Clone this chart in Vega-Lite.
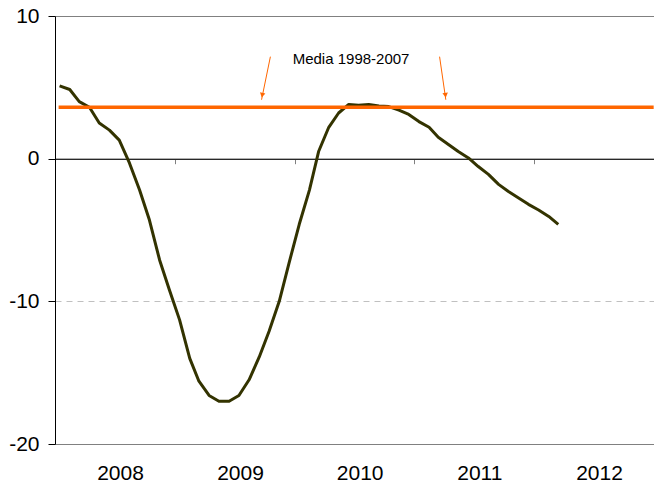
{
  "$schema": "https://vega.github.io/schema/vega-lite/v6.json",
  "width": 599,
  "height": 428,
  "autosize": {"type": "none"},
  "padding": {"left": 55, "top": 16, "right": 0, "bottom": 47},
  "background": "white",
  "config": {
    "view": {"stroke": null},
    "font": "Liberation Sans",
    "axis": {"labelFont": "Liberation Sans", "labelColor": "#000000"}
  },
  "datasets": {
    "serie": [
      {"date": "2008-01-15", "value": 5.1},
      {"date": "2008-02-15", "value": 4.85},
      {"date": "2008-03-15", "value": 4.0},
      {"date": "2008-04-15", "value": 3.6},
      {"date": "2008-05-15", "value": 2.5},
      {"date": "2008-06-15", "value": 2.0},
      {"date": "2008-07-15", "value": 1.3},
      {"date": "2008-08-15", "value": -0.3},
      {"date": "2008-09-15", "value": -2.2},
      {"date": "2008-10-15", "value": -4.3},
      {"date": "2008-11-15", "value": -7.1},
      {"date": "2008-12-15", "value": -9.2},
      {"date": "2009-01-15", "value": -11.3},
      {"date": "2009-02-15", "value": -14.0},
      {"date": "2009-03-15", "value": -15.6},
      {"date": "2009-04-15", "value": -16.6},
      {"date": "2009-05-15", "value": -17.0},
      {"date": "2009-06-15", "value": -17.0},
      {"date": "2009-07-15", "value": -16.6},
      {"date": "2009-08-15", "value": -15.5},
      {"date": "2009-09-15", "value": -13.9},
      {"date": "2009-10-15", "value": -12.1},
      {"date": "2009-11-15", "value": -10.0},
      {"date": "2009-12-15", "value": -7.3},
      {"date": "2010-01-15", "value": -4.6},
      {"date": "2010-02-15", "value": -2.2},
      {"date": "2010-03-15", "value": 0.5},
      {"date": "2010-04-15", "value": 2.2},
      {"date": "2010-05-15", "value": 3.2},
      {"date": "2010-06-15", "value": 3.8},
      {"date": "2010-07-15", "value": 3.75},
      {"date": "2010-08-15", "value": 3.8},
      {"date": "2010-09-15", "value": 3.7},
      {"date": "2010-10-15", "value": 3.65},
      {"date": "2010-11-15", "value": 3.4},
      {"date": "2010-12-15", "value": 3.1},
      {"date": "2011-01-15", "value": 2.6},
      {"date": "2011-02-15", "value": 2.2},
      {"date": "2011-03-15", "value": 1.5},
      {"date": "2011-04-15", "value": 1.0},
      {"date": "2011-05-15", "value": 0.5},
      {"date": "2011-06-15", "value": 0.05},
      {"date": "2011-07-15", "value": -0.55},
      {"date": "2011-08-15", "value": -1.1},
      {"date": "2011-09-15", "value": -1.8},
      {"date": "2011-10-15", "value": -2.3},
      {"date": "2011-11-15", "value": -2.75},
      {"date": "2011-12-15", "value": -3.2},
      {"date": "2012-01-15", "value": -3.6},
      {"date": "2012-02-15", "value": -4.05},
      {"date": "2012-03-15", "value": -4.6}
    ],
    "media": [
      {"date": "2008-01-12", "media": 3.6},
      {"date": "2012-12-31", "media": 3.6}
    ],
    "arrows": [
      {"id": 1, "d1": "2009-10-19", "y1": 7.15, "d2": "2009-09-22", "y2": 4.13, "hd": "2009-09-24", "hy": 4.45},
      {"id": 2, "d1": "2011-03-19", "y1": 7.15, "d2": "2011-04-07", "y2": 4.13, "hd": "2011-04-06", "hy": 4.45}
    ],
    "label": [
      {"date": "2010-06-22", "y": 7.0, "text": "Media 1998-2007"}
    ]
  },
  "layer": [
    {
      "data": {"name": "serie"},
      "mark": {"type": "line", "color": "#333300", "strokeWidth": 3, "strokeJoin": "round"},
      "encoding": {
        "x": {
          "field": "date",
          "type": "temporal",
          "scale": {"type": "utc", "domain": [{"year": 2008, "month": 1, "date": 1, "utc": true}, {"year": 2013, "month": 1, "date": 1, "utc": true}]},
          "axis": {
            "title": null,
            "orient": "bottom",
            "offset": -285.3,
            "values": [
              {"year": 2008, "month": 1, "date": 1, "utc": true},
              {"year": 2009, "month": 1, "date": 1, "utc": true},
              {"year": 2010, "month": 1, "date": 1, "utc": true},
              {"year": 2011, "month": 1, "date": 1, "utc": true},
              {"year": 2012, "month": 1, "date": 1, "utc": true}
            ],
            "labelExpr": "utcFormat(datum.value, '%Y')",
            "labelFontSize": 21,
            "labelOffset": 65,
            "labelPadding": 299,
            "labelAlign": "center",
            "labelBaseline": "top",
            "labelFlush": false,
            "labelOverlap": false,
            "domainColor": "#000000",
            "domainWidth": 1,
            "tickColor": "#808080",
            "tickSize": 5,
            "tickWidth": 1,
            "grid": false
          }
        },
        "y": {
          "field": "value",
          "type": "quantitative",
          "scale": {"domain": [-20, 10], "nice": false, "zero": false},
          "axis": {
            "title": null,
            "values": [-20, -10, 0, 10],
            "labelExpr": "datum.value < 0 ? '-' + abs(datum.value) : '' + datum.value",
            "labelFontSize": 21,
            "labelPadding": 9,
            "tickSize": 7,
            "tickColor": "#000000",
            "domainColor": "#000000",
            "grid": true,
            "gridColor": {"condition": {"test": "datum.value == -10", "value": "#c0c0c0"}, "value": "#808080"},
            "gridDash": {"condition": {"test": "datum.value == -10", "value": [6, 5]}, "value": []},
            "gridWidth": 1
          }
        }
      }
    },
    {
      "data": {"name": "media"},
      "mark": {"type": "line", "color": "#FF6600", "strokeWidth": 3.5},
      "encoding": {
        "x": {"field": "date", "type": "temporal"},
        "y": {"field": "media", "type": "quantitative"}
      }
    },
    {
      "data": {"name": "arrows"},
      "mark": {"type": "rule", "color": "#FF6600", "strokeWidth": 1},
      "encoding": {
        "x": {"field": "d1", "type": "temporal"},
        "y": {"field": "y1", "type": "quantitative"},
        "x2": {"field": "d2"},
        "y2": {"field": "y2"}
      }
    },
    {
      "data": {"name": "arrows"},
      "transform": [{"filter": "datum.id == 1"}],
      "mark": {"type": "point", "shape": "triangle-down", "filled": true, "color": "#FF6600", "size": 30, "angle": 12, "opacity": 1},
      "encoding": {
        "x": {"field": "hd", "type": "temporal"},
        "y": {"field": "hy", "type": "quantitative"}
      }
    },
    {
      "data": {"name": "arrows"},
      "transform": [{"filter": "datum.id == 2"}],
      "mark": {"type": "point", "shape": "triangle-down", "filled": true, "color": "#FF6600", "size": 30, "angle": -8, "opacity": 1},
      "encoding": {
        "x": {"field": "hd", "type": "temporal"},
        "y": {"field": "hy", "type": "quantitative"}
      }
    },
    {
      "data": {"name": "label"},
      "mark": {"type": "text", "fontSize": 15, "color": "#000000", "align": "center", "baseline": "middle", "font": "Liberation Sans"},
      "encoding": {
        "x": {"field": "date", "type": "temporal"},
        "y": {"field": "y", "type": "quantitative"},
        "text": {"field": "text"}
      }
    }
  ]
}
